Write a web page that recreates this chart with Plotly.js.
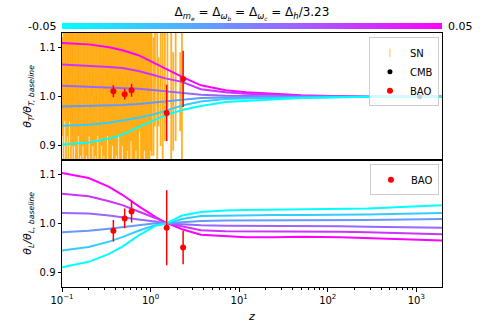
<!DOCTYPE html>
<html>
<head>
<meta charset="utf-8">
<script src="https://cdn.plot.ly/plotly-3.0.1.min.js"></script>
<style>
  html, body { margin: 0; padding: 0; background: white; }
  #myPlot { width: 491px; height: 327px; }
</style>
</head>
<body>
<div id="myPlot"></div>
<script>
// parameter shifts shown by the colour bar
var deltas = [0.05, 0.03, 0.01, -0.01, -0.03, -0.05];

// redshift grid of the model curves
var zGrid = [0.1, 0.2, 0.34, 0.48, 0.73, 1.13, 1.47, 2.27, 3.7, 7, 12, 25, 50, 140, 280, 2000];

// theta_T / theta_T,baseline (top panel), one row per delta
var thetaT = [
    [1.109, 1.106, 1.100, 1.094, 1.084, 1.067, 1.056, 1.040, 1.023, 1.013, 1.009, 1.006, 1.003, 1.001, 1.000, 1.000],
    [1.065, 1.063, 1.060, 1.058, 1.052, 1.043, 1.037, 1.030, 1.015, 1.009, 1.006, 1.004, 1.002, 1.001, 1.000, 1.000],
    [1.022, 1.020, 1.019, 1.018, 1.016, 1.013, 1.011, 1.008, 1.004, 1.002, 1.001, 1.001, 1.000, 1.000, 1.000, 1.000],
    [0.980, 0.981, 0.982, 0.983, 0.985, 0.988, 0.990, 0.994, 0.997, 0.998, 0.999, 0.999, 1.000, 1.000, 1.000, 1.000],
    [0.941, 0.943, 0.947, 0.951, 0.957, 0.965, 0.972, 0.982, 0.990, 0.995, 0.996, 0.997, 0.998, 0.999, 1.000, 1.000],
    [0.903, 0.907, 0.915, 0.923, 0.938, 0.953, 0.962, 0.973, 0.981, 0.989, 0.991, 0.994, 0.997, 0.999, 1.000, 1.000]
];

// theta_L / theta_L,baseline (bottom panel)
var thetaL = [
    [1.102, 1.092, 1.074, 1.058, 1.035, 1.013, 1.002, 0.988, 0.977, 0.974, 0.972, 0.972, 0.973, 0.972, 0.970, 0.965],
    [1.060, 1.055, 1.045, 1.037, 1.024, 1.011, 1.001, 0.994, 0.986, 0.984, 0.984, 0.984, 0.984, 0.983, 0.982, 0.978],
    [1.021, 1.020, 1.016, 1.013, 1.008, 1.004, 1.000, 0.998, 0.996, 0.995, 0.995, 0.995, 0.995, 0.994, 0.993, 0.991],
    [0.982, 0.985, 0.989, 0.992, 0.996, 1.000, 1.000, 1.003, 1.005, 1.006, 1.006, 1.006, 1.006, 1.007, 1.007, 1.009],
    [0.945, 0.952, 0.963, 0.972, 0.985, 0.996, 0.999, 1.009, 1.015, 1.016, 1.017, 1.017, 1.017, 1.017, 1.018, 1.021],
    [0.911, 0.922, 0.938, 0.953, 0.975, 0.995, 0.999, 1.016, 1.023, 1.026, 1.027, 1.028, 1.028, 1.029, 1.030, 1.037]
];

// supernovae
var snZ = [0.101,0.104,0.108,0.111,0.115,0.118,0.122,0.126,0.130,0.134,
           0.139,0.143,0.148,0.152,0.157,0.162,0.167,0.173,0.178,0.184,
           0.190,0.196,0.203,0.209,0.216,0.223,0.230,0.238,0.245,0.253,
           0.262,0.270,0.279,0.288,0.297,0.307,0.317,0.327,0.338,0.349,
           0.360,0.372,0.384,0.396,0.409,0.423,0.436,0.451,0.465,0.480,
           0.496,0.512,0.529,0.546,0.564,0.582,0.601,0.621,0.641,0.662,
           0.684,0.706,0.729,0.753,0.778,0.803,0.829,0.856,0.884,0.913,
           0.943,0.974,1.005,
           1.03,1.08,1.12,1.19,1.23,1.30,1.37,1.45,1.55,1.71,1.80,1.92,2.16,2.26];
var snVal = [1.02,1.00,1.04,0.99,1.03,1.01,1.05,0.98,1.02,1.00,
             1.03,0.99,1.01,1.04,0.98,1.02,1.00,1.03,0.99,1.01,
             1.02,1.00,1.04,0.98,1.01,1.03,0.99,1.02,1.00,1.04,
             0.99,1.01,1.03,1.00,1.02,0.98,1.01,1.04,0.99,1.02,
             1.00,1.03,0.98,1.01,1.02,1.00,1.04,0.99,1.01,1.03,
             0.98,1.02,1.00,1.03,0.99,1.01,1.04,0.98,1.02,1.00,
             1.03,0.99,1.01,1.05,0.98,1.02,1.00,1.03,0.99,1.02,
             1.01,0.98,1.03,
             1.02,1.00,1.04,0.99,1.01,1.03,0.98,1.02,1.05,1.00,0.99,1.03,1.01,1.00];
var snErr = [0.10,0.13,0.09,0.15,0.11,0.14,0.10,0.17,0.12,0.15,
             0.13,0.16,0.15,0.12,0.17,0.14,0.16,0.13,0.18,0.15,
             0.14,0.17,0.12,0.18,0.15,0.13,0.17,0.14,0.16,0.12,
             0.18,0.15,0.13,0.17,0.14,0.19,0.16,0.12,0.18,0.15,
             0.17,0.13,0.19,0.16,0.14,0.18,0.12,0.17,0.15,0.13,
             0.19,0.15,0.17,0.14,0.18,0.16,0.13,0.19,0.15,0.17,
             0.14,0.18,0.16,0.12,0.19,0.15,0.17,0.14,0.18,0.15,
             0.16,0.19,0.14,
             0.14,0.12,0.10,0.15,0.07,0.13,0.16,0.11,0.09,0.14,0.10,0.12,0.08,0.13];

// CMB
var cmbZ = [1090];
var cmbVal = [1.000];
var cmbErr = [0.001];

// BAO
var baoZ = [0.38, 0.51, 0.61, 1.52, 2.33];
var baoT = [1.011, 1.005, 1.013, 0.967, 1.036];
var baoTErr = [0.012, 0.011, 0.013, 0.057, 0.057];
var baoL = [0.985, 1.010, 1.024, 0.991, 0.951];
var baoLErr = [0.022, 0.020, 0.022, 0.076, 0.034];

var colorRange = [-0.05, 0.05];
var xTicks = [0.1, 1, 10, 100, 1000];
var xTickText = ['10<sup>\u22121</sup>', '10<sup>0</sup>', '10<sup>1</sup>', '10<sup>2</sup>', '10<sup>3</sup>'];
var yTicks = [0.9, 1.0, 1.1];
var yTickText = ['0.9', '1.0', '1.1'];

// matplotlib "cool" colormap
function cool(d) {
    var t = (d - colorRange[0]) / (colorRange[1] - colorRange[0]);
    return 'rgb(' + Math.round(255 * t) + ',' + Math.round(255 * (1 - t)) + ',255)';
}

var data = [];

// SN first so that everything else sits on top
data.push({
    x: snZ, y: snVal, xaxis: 'x', yaxis: 'y',
    mode: 'markers', name: 'SN', legend: 'legend',
    marker: {symbol: 'line-ns-open', size: 6, color: 'rgba(255,165,0,0.7)', line: {width: 1}},
    error_y: {type: 'data', array: snErr, visible: true, color: 'rgba(255,165,0,0.85)', thickness: 1.8, width: 0},
    hoverinfo: 'skip'
});

for (let i = 0; i < deltas.length; i++) {
    data.push({
        x: zGrid, y: thetaT[i], xaxis: 'x', yaxis: 'y',
        mode: 'lines', showlegend: false,
        line: {color: cool(deltas[i]), width: 2}
    });
    data.push({
        x: zGrid, y: thetaL[i], xaxis: 'x2', yaxis: 'y2',
        mode: 'lines', showlegend: false,
        line: {color: cool(deltas[i]), width: 2}
    });
}

data.push({
    x: cmbZ, y: cmbVal, xaxis: 'x', yaxis: 'y',
    mode: 'markers', name: 'CMB', legend: 'legend',
    marker: {color: 'black', size: 5},
    error_y: {type: 'data', array: cmbErr, visible: true, color: 'black', thickness: 1.5, width: 0}
});
data.push({
    x: baoZ, y: baoT, xaxis: 'x', yaxis: 'y',
    mode: 'markers', name: 'BAO', legend: 'legend',
    marker: {color: 'red', size: 6},
    error_y: {type: 'data', array: baoTErr, visible: true, color: 'red', thickness: 1.5, width: 0}
});
data.push({
    x: baoZ, y: baoL, xaxis: 'x2', yaxis: 'y2',
    mode: 'markers', name: 'BAO', legend: 'legend2',
    marker: {color: 'red', size: 6},
    error_y: {type: 'data', array: baoLErr, visible: true, color: 'red', thickness: 1.5, width: 0}
});

// colour bar drawn as a smoothed one-row heatmap
data.push({
    type: 'heatmap', xaxis: 'x3', yaxis: 'y3',
    z: [colorRange], x: colorRange, y: [0],
    zsmooth: 'best', showscale: false, hoverinfo: 'skip',
    zmin: colorRange[0], zmax: colorRange[1],
    colorscale: [[0, 'rgb(0,255,255)'], [1, 'rgb(255,0,255)']]
});

var frame = {showline: true, mirror: true, linecolor: 'black', linewidth: 1,
             showgrid: false, zeroline: false};

var layout = {
    width: 491, height: 327,
    margin: {l: 62, r: 49, t: 23, b: 40},
    paper_bgcolor: 'white', plot_bgcolor: 'white',
    font: {family: 'DejaVu Sans', size: 10, color: 'black'},
    title: {
        text: '\u0394<sub><i>m<sub>e</sub></i></sub> = \u0394<sub><i>\u03c9<sub>b</sub></i></sub> = \u0394<sub><i>\u03c9<sub>c</sub></i></sub> = \u0394<sub><i>h</i></sub>/3.23',
        x: 0.5, xref: 'paper', y: 0.963, yref: 'container', yanchor: 'middle',
        font: {size: 12}
    },
    xaxis: Object.assign({}, frame, {
        type: 'log', range: [-1, 3.29], domain: [0, 1], anchor: 'y', matches: 'x2',
        showticklabels: false, ticks: ''
    }),
    yaxis: Object.assign({}, frame, {
        domain: [0.482, 0.962], anchor: 'x', range: [0.872, 1.129],
        tickmode: 'array', tickvals: yTicks, ticktext: yTickText,
        ticks: 'outside', ticklen: 3.5, tickcolor: 'black',
        title: {text: '<i>\u03b8<sub>T</sub>/\u03b8<sub>T, baseline</sub></i>', font: {size: 11}, standoff: 5}
    }),
    xaxis2: Object.assign({}, frame, {
        type: 'log', range: [-1, 3.29], domain: [0, 1], anchor: 'y2',
        tickmode: 'array', tickvals: xTicks, ticktext: xTickText,
        ticks: 'outside', ticklen: 3.5, tickcolor: 'black',
        minor: {ticks: 'outside', ticklen: 2, dtick: 'D1', tickcolor: 'black'},
        title: {text: '<i>z</i>', font: {size: 11}, standoff: 7}
    }),
    yaxis2: Object.assign({}, frame, {
        domain: [0, 0.482], anchor: 'x2', range: [0.871, 1.129],
        tickmode: 'array', tickvals: yTicks, ticktext: yTickText,
        ticks: 'outside', ticklen: 3.5, tickcolor: 'black',
        title: {text: '<i>\u03b8<sub>L</sub>/\u03b8<sub>L, baseline</sub></i>', font: {size: 11}, standoff: 5}
    }),
    xaxis3: {domain: [0, 1], anchor: 'y3', range: colorRange, visible: false, fixedrange: true},
    yaxis3: {domain: [0.976, 1], anchor: 'x3', range: [-0.5, 0.5], visible: false, fixedrange: true},
    legend: {
        x: 0.992, xanchor: 'right', y: 0.946, yanchor: 'top',
        bgcolor: 'rgba(255,255,255,0.8)', bordercolor: '#cccccc', borderwidth: 1,
        font: {size: 10}, itemwidth: 30, tracegroupgap: 0
    },
    legend2: {
        x: 0.992, xanchor: 'right', y: 0.465, yanchor: 'top',
        bgcolor: 'rgba(255,255,255,0.8)', bordercolor: '#cccccc', borderwidth: 1,
        font: {size: 10}, itemwidth: 30
    },
    annotations: [
        {text: colorRange[0].toFixed(2), xref: 'paper', yref: 'paper', x: 0, y: 0.9875,
         xanchor: 'right', yanchor: 'middle', xshift: -4, showarrow: false, font: {size: 11}},
        {text: colorRange[1].toFixed(2), xref: 'paper', yref: 'paper', x: 1, y: 0.9875,
         xanchor: 'left', yanchor: 'middle', xshift: 4, showarrow: false, font: {size: 11}}
    ],
    showlegend: true
};

Plotly.newPlot('myPlot', data, layout, {displayModeBar: false, staticPlot: true});
</script>
</body>
</html>
